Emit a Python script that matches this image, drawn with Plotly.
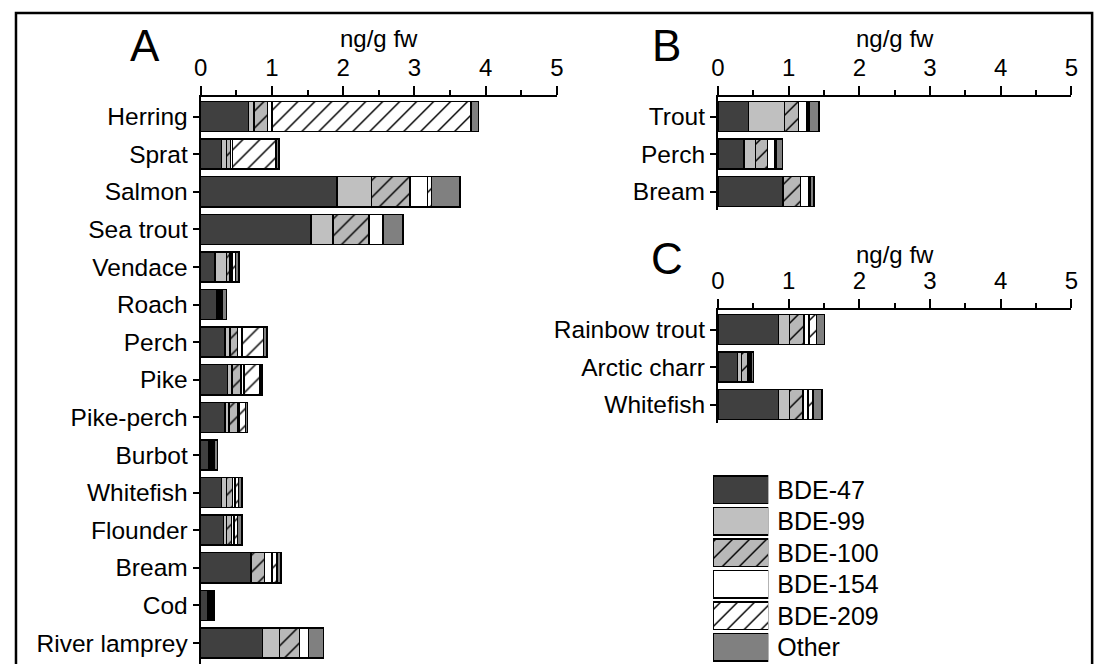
import plotly.graph_objects as go

# ---------------- data ----------------
series = ["BDE-47", "BDE-99", "BDE-100", "BDE-154", "BDE-209", "Other"]

cats_A = ["Herring", "Sprat", "Salmon", "Sea trout", "Vendace", "Roach", "Perch", "Pike",
          "Pike-perch", "Burbot", "Whitefish", "Flounder", "Bream", "Cod", "River lamprey"]
bde47_A = [0.67, 0.29, 1.91, 1.55, 0.20, 0.23, 0.34, 0.38, 0.34, 0.12, 0.29, 0.32, 0.71, 0.10, 0.87]
bde99_A = [0.08, 0.07, 0.49, 0.31, 0.16, 0.01, 0.07, 0.06, 0.06, 0.015, 0.07, 0.04, 0.0, 0.015, 0.235]
bde100_A = [0.19, 0.06, 0.54, 0.50, 0.05, 0.02, 0.11, 0.125, 0.12, 0.02, 0.09, 0.07, 0.185, 0.015, 0.28]
bde154_A = [0.06, 0.03, 0.24, 0.20, 0.03, 0.02, 0.06, 0.046, 0.02, 0.015, 0.03, 0.04, 0.105, 0.015, 0.13]
bde209_A = [2.79, 0.61, 0.06, 0.0, 0.05, 0.02, 0.30, 0.22, 0.09, 0.015, 0.05, 0.05, 0.07, 0.015, 0.0]
other_A = [0.11, 0.04, 0.40, 0.28, 0.05, 0.06, 0.05, 0.03, 0.03, 0.055, 0.05, 0.06, 0.06, 0.03, 0.21]

cats_B = ["Trout", "Perch", "Bream"]
bde47_B = [0.43, 0.37, 0.91]
bde99_B = [0.51, 0.16, 0.01]
bde100_B = [0.20, 0.17, 0.25]
bde154_B = [0.12, 0.11, 0.12]
bde209_B = [0.03, 0.02, 0.02]
other_B = [0.14, 0.08, 0.05]

cats_C = ["Rainbow trout", "Arctic charr", "Whitefish"]
bde47_C = [0.86, 0.28, 0.86]
bde99_C = [0.15, 0.05, 0.15]
bde100_C = [0.205, 0.09, 0.195]
bde154_C = [0.07, 0.02, 0.07]
bde209_C = [0.11, 0.03, 0.07]
other_C = [0.115, 0.035, 0.125]

x_ticks = [0, 1, 2, 3, 4, 5]

# ---------------- styles ----------------
FONT = "Liberation Sans, Arial, sans-serif"
styles = {
    "BDE-47": dict(color="#404040", shape=""),
    "BDE-99": dict(color="#c0c0c0", shape=""),
    "BDE-100": dict(color="#b8b8b8", shape="/"),
    "BDE-154": dict(color="#ffffff", shape=""),
    "BDE-209": dict(color="#ffffff", shape="/"),
    "Other": dict(color="#808080", shape=""),
}

# page has an 8px body margin: figure occupies page pixels 8..1109 x 8..664
OFF = 8
W, H = 1109 - OFF, 664 - OFF
def px(x):
    return (x - OFF) / W
def py(y):
    return 1 - (y - OFF) / H

fig = go.Figure()

def pattern(st):
    return dict(shape=st["shape"], fgcolor="black", bgcolor=st["color"], fgopacity=1,
                size=12, solidity=0.12, fillmode="replace")

def add_panel(cats, vals, xa, ya):
    for name, v in zip(series, vals):
        st = styles[name]
        fig.add_trace(go.Bar(
            x=v, y=cats, orientation="h", name=name, width=0.8,
            marker=dict(color=st["color"], line=dict(color="black", width=1.5), pattern=pattern(st)),
            xaxis=xa, yaxis=ya, showlegend=False, hoverinfo="skip"))

add_panel(cats_A, [bde47_A, bde99_A, bde100_A, bde154_A, bde209_A, other_A], "x", "y")
add_panel(cats_B, [bde47_B, bde99_B, bde100_B, bde154_B, bde209_B, other_B], "x2", "y2")
add_panel(cats_C, [bde47_C, bde99_C, bde100_C, bde154_C, bde209_C, other_C], "x3", "y3")

# legend drawn as its own small bar axes
for name in series:
    st = styles[name]
    fig.add_trace(go.Bar(
        x=[1], y=[name], orientation="h", width=0.88,
        marker=dict(color=st["color"], line=dict(color="black", width=1.5), pattern=pattern(st)),
        xaxis="x4", yaxis="y4", showlegend=False, hoverinfo="skip"))

xcommon = dict(range=[0, 5], tickvals=x_ticks, side="top", ticks="outside", ticklen=9, tickwidth=2,
               tickcolor="black", showline=True, linewidth=2, linecolor="black", showgrid=False,
               zeroline=False, tickfont=dict(size=24, color="black", family=FONT),
               minor=dict(dtick=0.5, ticks="outside", ticklen=5, tickwidth=2, tickcolor="black", showgrid=False),
               fixedrange=True)
ycommon = dict(ticks="outside", ticklen=6, tickwidth=2, tickcolor="black", showline=True, linewidth=2,
               linecolor="black", showgrid=False, zeroline=False,
               tickfont=dict(size=24.5, color="black", family=FONT), fixedrange=True)

fig.update_layout(
    width=W, height=H, margin=dict(l=0, r=0, t=0, b=0),
    paper_bgcolor="white", plot_bgcolor="rgba(0,0,0,0)", barmode="stack",
    font=dict(family=FONT, color="black"),
    xaxis=dict(domain=[px(196), px(557)], anchor="y", **xcommon),
    yaxis=dict(domain=[0, py(97)], anchor="x", type="category", categoryorder="array",
               categoryarray=cats_A, range=[14.56, -0.52], **ycommon),
    xaxis2=dict(domain=[px(720), px(1078)], anchor="y2", **xcommon),
    yaxis2=dict(domain=[py(210), py(97)], anchor="x2", type="category", categoryorder="array",
                categoryarray=cats_B, range=[2.49, -0.52], **ycommon),
    xaxis3=dict(domain=[px(720), px(1078)], anchor="y3", **xcommon),
    yaxis3=dict(domain=[py(423), py(310)], anchor="x3", type="category", categoryorder="array",
                categoryarray=cats_C, range=[2.49, -0.52], **ycommon),
    xaxis4=dict(domain=[px(715), px(771)], anchor="y4", range=[0, 1], visible=False, fixedrange=True),
    yaxis4=dict(domain=[py(663), py(474)], anchor="x4", type="category", categoryorder="array",
                categoryarray=series, range=[5.5, -0.5], side="right", showline=False, ticks="",
                showgrid=False, zeroline=False, ticklabelstandoff=8,
                tickfont=dict(size=25, color="black", family=FONT), fixedrange=True),
)

ann = [
    dict(text="A", x=px(140), y=py(45)),
    dict(text="B", x=px(668), y=py(45)),
    dict(text="C", x=px(668), y=py(258)),
]
for a in ann:
    fig.add_annotation(xref="paper", yref="paper", xanchor="center", yanchor="middle", showarrow=False,
                       font=dict(size=44, color="black", family=FONT), **a)
for xc, yc in [((196 + 557) / 2, 38), ((720 + 1078) / 2, 38), ((720 + 1078) / 2, 255)]:
    fig.add_annotation(text="ng/g fw", xref="paper", yref="paper", x=px(xc), y=py(yc),
                       xanchor="center", yanchor="middle", showarrow=False,
                       font=dict(size=24, color="black", family=FONT))

# outer frame
fig.add_shape(type="rect", xref="paper", yref="paper", x0=px(9), x1=px(1099), y0=-0.02, y1=py(13),
              line=dict(color="black", width=2.5), fillcolor="rgba(0,0,0,0)")

fig.write_html("out.html")
